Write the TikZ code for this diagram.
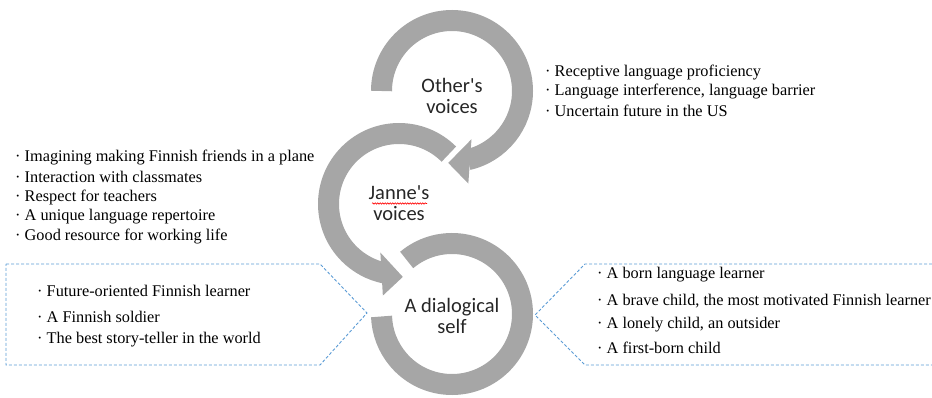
\documentclass[tikz,border=0pt]{standalone}
\usepackage{fontspec}
\setmainfont{Liberation Serif}
\newfontfamily\ringfont{Carlito}
\usetikzlibrary{calc,decorations.pathmorphing}
\definecolor{ringgray}{RGB}{166,166,166}
\definecolor{dashblue}{RGB}{91,155,213}
\tikzset{
  ring/.style={draw=ringgray, line width=21pt},
  ringhead/.style={fill=ringgray},
  ringlabel/.style={font=\ringfont\fontsize{20.5}{21}\selectfont, align=center, inner sep=0pt, text=black!85},
  item/.style={anchor=west, font=\fontsize{16.3}{19}\selectfont, inner sep=0pt},
  framebox/.style={draw=dashblue, dash pattern=on 3pt off 2pt, line width=0.9pt},
}
\begin{document}
\begin{tikzpicture}[x=1pt,y=1pt]
    \useasboundingbox (0,0) rectangle (932,-398);
    \coordinate (c1) at (452,-91);
    \coordinate (c2) at (399,-204);
    \coordinate (c3) at (452,-314);
    % rings
    \draw[ring] ($(c1)+(180:70.5)$) arc[start angle=180, end angle=-77, radius=70.5];
    \fill[ringhead] ($(c1)+(-68:52)$) -- ($(c1)+(-93:72)$) -- ($(c1)+(-80:94)$) -- cycle;
    \draw[ring] ($(c2)+(45:70.5)$) arc[start angle=45, end angle=258, radius=70.5];
    \fill[ringhead] ($(c2)+(249:52)$) -- ($(c2)+(273:73)$) -- ($(c2)+(260:93)$) -- cycle;
    \draw[ring] ($(c3)+(130:70.5)$) arc[start angle=130, end angle=-178, radius=70.5];
    % labels
    \node[ringlabel] (other) at (452,-96) {Other's\\voices};
    \node[ringlabel] (janne) at (399,-203) {Janne's\\voices};
    \node[ringlabel] (self) at (452,-316) {A dialogical\\self};
    \draw[red, line width=0.6pt, decorate, decoration={snake, amplitude=0.7pt, segment length=2.5pt}]
        ($(janne)+(-27,-0.5)$) -- ($(janne)+(28,-0.5)$);
    % other's voices
    \node[item] (other1) at (545,-73) {· Receptive language proficiency};
    \node[item] (other2) at (545,-92) {· Language interference, language barrier};
    \node[item] (other3) at (545,-111) {· Uncertain future in the US};
    % janne's voices
    \node[item] (janne1) at (15,-158) {· Imagining making Finnish friends in a plane};
    \node[item] (janne2) at (15,-177) {· Interaction with classmates};
    \node[item] (janne3) at (15,-197) {· Respect for teachers};
    \node[item] (janne4) at (15,-217) {· A unique language repertoire};
    \node[item] (janne5) at (15,-237) {· Good resource for working life};
    % dialogical self, left
    \draw[framebox] (6,-264) -- (320,-264) -- (367,-313) -- (320,-365) -- (6,-365) -- cycle;
    \node[item] (selfl1) at (37,-291) {· Future-oriented Finnish learner};
    \node[item] (selfl2) at (37,-317) {· A Finnish soldier};
    \node[item] (selfl3) at (37,-340) {· The best story-teller in the world};
    % dialogical self, right
    \draw[framebox] (932,-264) -- (585,-264) -- (535,-315) -- (585,-365) -- (932,-365);
    \node[item] (selfr1) at (597,-275) {· A born language learner};
    \node[item] (selfr2) at (597,-301) {· A brave child, the most motivated Finnish learner};
    \node[item] (selfr3) at (597,-325) {· A lonely child, an outsider};
    \node[item] (selfr4) at (597,-348) {· A first-born child};
\end{tikzpicture}
\end{document}
